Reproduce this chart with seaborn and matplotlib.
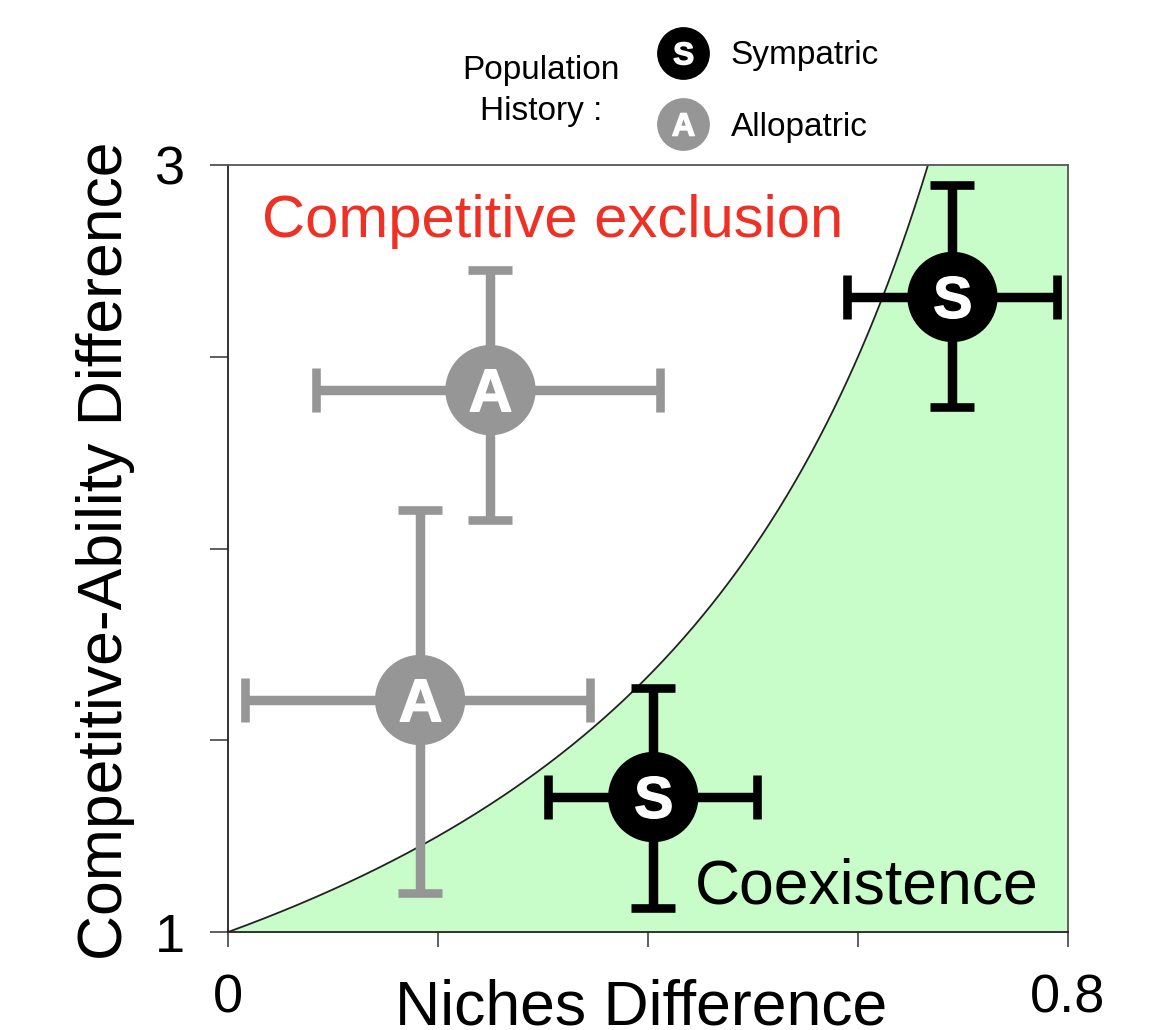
"""Niche vs competitive-ability differences, sympatric vs allopatric pairs."""
import matplotlib
matplotlib.use("Agg")
import matplotlib.pyplot as plt
from matplotlib.lines import Line2D
import numpy as np
import pandas as pd
import seaborn as sns

# --- data ---
history = ["Sympatric", "Sympatric", "Allopatric", "Allopatric"]
niche = [0.690, 0.405, 0.250, 0.183]
niche_lo = [0.590, 0.305, 0.084, 0.016]
niche_hi = [0.790, 0.504, 0.411, 0.345]
fitness = [2.656, 1.352, 2.413, 1.605]
fitness_lo = [2.369, 1.063, 2.074, 1.102]
fitness_hi = [2.948, 1.636, 2.726, 2.100]

letters = {"Sympatric": "S", "Allopatric": "A"}
colors = {"Sympatric": "#000000", "Allopatric": "#969696"}

x_ticks = [0, 0.2, 0.4, 0.6, 0.8]
x_ticklabels = ["0", "", "", "", "0.8"]
y_ticks = [1, 1.5, 2, 2.5, 3]
y_ticklabels = ["1", "", "", "", "3"]

GREEN = "#c8fcc8"
RED = "#ee3124"

df = pd.DataFrame({
    "history": history, "niche": niche, "niche_lo": niche_lo, "niche_hi": niche_hi,
    "fitness": fitness, "fitness_lo": fitness_lo, "fitness_hi": fitness_hi,
})

sns.set_theme(style="white")
plt.rcParams["font.family"] = ["Liberation Sans", "DejaVu Sans"]
plt.rcParams["text.color"] = "black"
plt.rcParams["mathtext.fontset"] = "custom"
plt.rcParams["mathtext.bf"] = "Liberation Sans:bold"
plt.rcParams["mathtext.rm"] = "Liberation Sans"

fig = plt.figure(figsize=(11.74, 10.30), dpi=100)
ax = fig.add_axes([0.1942, 0.0951, 0.7155, 0.7447])

# coexistence boundary: fitness ratio = 1 / (1 - niche difference)
rho = np.linspace(0, 0.8, 500)
bound = 1.0 / (1.0 - rho)
ax.fill_between(rho, 1, np.minimum(bound, 3), color=GREEN, lw=0, zorder=0.5)
ax.plot(rho, bound, color="#222222", lw=1.3, zorder=1)

for h, sub in df.groupby("history"):
    ax.errorbar(
        sub["niche"], sub["fitness"],
        xerr=[sub["niche"] - sub["niche_lo"], sub["niche_hi"] - sub["niche"]],
        yerr=[sub["fitness"] - sub["fitness_lo"], sub["fitness_hi"] - sub["fitness"]],
        fmt="none", ecolor=colors[h], elinewidth=6.8, capsize=16, capthick=6.2, zorder=2,
    )

sns.scatterplot(data=df, x="niche", y="fitness", hue="history", palette=colors,
                s=65 ** 2, linewidth=0, legend=False, ax=ax, zorder=3)
for h, sub in df.groupby("history"):
    ax.plot(sub["niche"], sub["fitness"], ls="none", marker=rf"$\mathbf{{{letters[h]}}}$",
            color="white", markersize=30, zorder=4)

ax.text(0.032, 2.812, "Competitive exclusion", color=RED, fontsize=43, ha="left", va="baseline")
ax.text(0.445, 1.0756, "Coexistence", color="black", fontsize=45, ha="left", va="baseline")

ax.set_xlim(0, 0.8)
ax.set_ylim(1, 3)
ax.set_xticks(x_ticks)
ax.set_xticklabels(x_ticklabels)
ax.set_yticks(y_ticks)
ax.set_yticklabels(y_ticklabels)
ax.tick_params(axis="both", bottom=True, left=True, direction="out", color="#333333",
               width=1.1, labelsize=39, labelcolor="black")
ax.tick_params(axis="x", length=11, pad=19)
ax.tick_params(axis="y", length=13, pad=18)
for side, sp in ax.spines.items():
    sp.set_color("#222222" if side in ("left", "bottom") else "#555555")
    sp.set_linewidth(1.3)
    sp.set_zorder(5)

ax.set_xlabel("Niches Difference", fontsize=45, color="black")
ax.set_ylabel("Competitive-Ability Difference", fontsize=45, color="black")
ax.xaxis.set_label_coords(0.4917, -0.060)
ax.yaxis.set_label_coords(-0.1107, 0.4967)

# legend: "Population History" with lettered circles
fig.text(541 / 1174, 1 - 91 / 1030, "Population\nHistory :", fontsize=24,
         ha="center", va="center", multialignment="center", linespacing=1.38)
handles = []
for h in ["Sympatric", "Allopatric"]:
    circ = Line2D([], [], ls="none", marker="o", markersize=38, color=colors[h], markeredgewidth=0)
    let = Line2D([], [], ls="none", marker=rf"$\mathbf{{{letters[h]}}}$", markersize=16, color="white")
    handles.append((circ, let))
ax.legend(handles, ["Sympatric", "Allopatric"], loc="center left",
          bbox_to_anchor=(666.5 / 1174, 1 - 91.5 / 1030), bbox_transform=fig.transFigure,
          frameon=False, fontsize=24, handlelength=1.0, handletextpad=0.92,
          labelspacing=1.21, borderpad=0, borderaxespad=0)

fig.savefig("out.png", dpi=100)
